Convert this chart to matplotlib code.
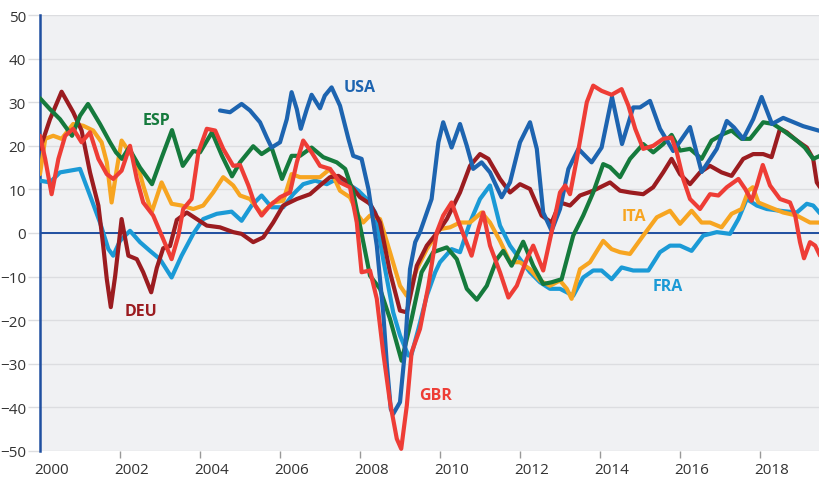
import numpy as np
import matplotlib
matplotlib.use('Agg')
import matplotlib.pyplot as plt
from matplotlib.transforms import ScaledTranslation

# values (year as decimal, value in index points)
usa_t = [2004.5, 2004.75, 2005.04, 2005.25, 2005.5, 2005.67, 2005.79, 2006.0, 2006.17, 2006.29,
         2006.42, 2006.52, 2006.67, 2006.79, 2007.0, 2007.12, 2007.29, 2007.5, 2007.71, 2007.83,
         2008.04, 2008.21, 2008.42, 2008.58, 2008.67, 2008.77, 2008.83, 2009.0, 2009.12, 2009.25,
         2009.38, 2009.5, 2009.79, 2009.96, 2010.08, 2010.29, 2010.5, 2010.67, 2010.83, 2011.04,
         2011.25, 2011.54, 2011.75, 2012.0, 2012.25, 2012.42, 2012.58, 2012.79, 2013.0, 2013.21,
         2013.46, 2013.79, 2014.04, 2014.3, 2014.55, 2014.83, 2015.0, 2015.25, 2015.5, 2015.83,
         2016.0, 2016.25, 2016.54, 2016.92, 2017.17, 2017.35, 2017.58, 2017.83, 2018.04, 2018.3,
         2018.58, 2019.08, 2019.5]
usa_v = [28.1, 27.7, 29.6, 28.1, 25.4, 21.9, 19.6, 20.8, 26.1, 32.3,
         28.4, 23.9, 28.4, 31.7, 28.6, 31.5, 33.4, 29.2, 21.6, 17.7,
         17.0, 10.1, -2.9, -18.2, -30.0, -40.4, -41.5, -38.8, -27.4, -8.3,
         -2.1, 0.2, 7.8, 20.8, 25.4, 19.6, 25.0, 20.0, 14.7, 16.2,
         13.9, 8.2, 11.6, 20.8, 25.4, 19.3, 4.7, 0.5, 5.5, 14.7,
         19.3, 16.2, 19.6, 31.2, 20.4, 28.8, 28.8, 30.3, 23.9, 18.8,
         21.0, 24.3, 14.0, 19.3, 25.7, 24.2, 21.6, 26.1, 31.2, 25.0,
         26.4, 24.5, 23.4]

esp_t = [2000.0, 2000.25, 2000.5, 2000.8, 2001.0, 2001.2, 2001.5, 2001.75, 2001.9, 2002.05,
         2002.22, 2002.5, 2002.8, 2003.05, 2003.3, 2003.57, 2003.83, 2004.0, 2004.3, 2004.55,
         2004.8, 2005.0, 2005.33, 2005.54, 2005.79, 2006.05, 2006.29, 2006.5, 2006.79, 2007.08,
         2007.42, 2007.63, 2007.83, 2008.0, 2008.25, 2008.5, 2008.75, 2009.04, 2009.29, 2009.54,
         2009.83, 2010.17, 2010.42, 2010.67, 2010.92, 2011.17, 2011.42, 2011.58, 2011.79, 2012.08,
         2012.33, 2012.58, 2012.79, 2013.04, 2013.33, 2013.58, 2013.83, 2014.08, 2014.25, 2014.5,
         2014.75, 2015.08, 2015.33, 2015.58, 2015.79, 2016.0, 2016.25, 2016.54, 2016.79, 2017.08,
         2017.29, 2017.54, 2017.75, 2018.08, 2018.33, 2018.58, 2018.92, 2019.12, 2019.33, 2019.5]
esp_v = [30.9, 28.4, 26.1, 22.3, 26.9, 29.6, 25.0, 20.8, 18.5, 17.0,
         19.5, 15.0, 11.2, 17.5, 23.6, 15.4, 18.8, 18.5, 23.1, 17.7,
         13.0, 16.2, 19.9, 18.1, 19.6, 12.4, 17.7, 17.7, 19.6, 17.4,
         16.2, 14.7, 9.3, 1.7, -9.8, -12.8, -19.7, -29.3, -19.7, -9.0,
         -4.4, -3.3, -6.0, -12.8, -15.3, -12.1, -6.0, -4.1, -7.5, -2.0,
         -7.5, -11.7, -11.3, -10.6, -0.6, 4.0, 9.3, 15.8, 15.1, 12.8,
         17.0, 20.4, 18.5, 20.4, 22.5, 18.9, 19.3, 17.0, 21.2, 22.7,
         23.5, 21.6, 21.6, 25.4, 25.0, 23.5, 21.2, 19.6, 17.0, 17.7]

deu_t = [2000.0, 2000.25, 2000.54, 2000.83, 2001.04, 2001.25, 2001.46, 2001.58, 2001.67, 2001.77,
         2001.88, 2002.04, 2002.21, 2002.42, 2002.58, 2002.78, 2002.92, 2003.08, 2003.25, 2003.42,
         2003.67, 2003.92, 2004.17, 2004.5, 2004.83, 2005.04, 2005.33, 2005.58, 2005.83, 2006.08,
         2006.42, 2006.75, 2007.0, 2007.25, 2007.46, 2007.71, 2008.0, 2008.25, 2008.5, 2008.75,
         2009.0, 2009.17, 2009.42, 2009.67, 2010.0, 2010.17, 2010.5, 2010.75, 2011.0, 2011.21,
         2011.5, 2011.75, 2012.0, 2012.25, 2012.54, 2012.79, 2013.0, 2013.25, 2013.5, 2013.83,
         2014.25, 2014.5, 2014.75, 2015.08, 2015.33, 2015.58, 2015.79, 2016.0, 2016.25, 2016.5,
         2016.75, 2017.04, 2017.29, 2017.58, 2017.83, 2018.08, 2018.29, 2018.5, 2018.67, 2018.92,
         2019.17, 2019.33, 2019.42, 2019.5]
deu_v = [19.3, 26.1, 32.4, 27.7, 23.5, 13.9, 6.3, -2.9, -10.6, -17.0,
         -9.8, 3.2, -5.2, -6.0, -9.0, -13.6, -8.0, -3.5, -3.0, 3.0,
         4.7, 3.2, 1.7, 1.3, 0.2, -0.2, -2.1, -1.0, 2.4, 6.3,
         7.8, 8.9, 10.9, 12.8, 13.1, 11.6, 8.2, 6.7, 2.4, -9.0,
         -17.8, -18.2, -7.5, -2.9, 0.9, 3.2, 9.3, 15.4, 18.1, 17.0,
         12.4, 9.3, 11.2, 10.1, 4.0, 2.4, 7.0, 6.3, 8.6, 9.7,
         11.6, 9.7, 9.3, 8.9, 10.5, 13.9, 17.0, 13.5, 11.2, 13.9,
         15.4, 13.9, 13.1, 17.0, 18.1, 18.1, 17.4, 23.9, 23.1, 21.2,
         19.6, 17.0, 11.6, 10.5]

ita_t = [2000.0, 2000.13, 2000.33, 2000.54, 2000.83, 2001.08, 2001.33, 2001.54, 2001.67, 2001.79,
         2001.92, 2002.04, 2002.21, 2002.42, 2002.58, 2002.79, 2003.04, 2003.29, 2003.54, 2003.83,
         2004.08, 2004.33, 2004.58, 2004.83, 2005.0, 2005.25, 2005.54, 2005.83, 2006.08, 2006.29,
         2006.5, 2006.75, 2007.0, 2007.25, 2007.5, 2007.75, 2007.96, 2008.08, 2008.25, 2008.5,
         2008.75, 2009.0, 2009.17, 2009.42, 2009.67, 2010.0, 2010.25, 2010.5, 2010.75, 2011.04,
         2011.25, 2011.5, 2011.75, 2012.0, 2012.25, 2012.5, 2012.75, 2013.0, 2013.17, 2013.29,
         2013.5, 2013.75, 2014.08, 2014.29, 2014.5, 2014.75, 2015.08, 2015.42, 2015.75, 2016.0,
         2016.29, 2016.54, 2016.75, 2017.04, 2017.29, 2017.54, 2017.71, 2017.82, 2017.96, 2018.25,
         2018.58, 2018.92, 2019.25, 2019.5]
ita_v = [13.5, 21.6, 22.3, 21.6, 25.0, 24.6, 23.5, 20.8, 16.2, 7.0,
         14.7, 21.2, 18.9, 16.2, 10.9, 4.7, 11.6, 6.7, 6.3, 5.5,
         6.3, 9.3, 12.8, 10.9, 8.6, 7.8, 4.4, 7.0, 7.4, 13.5,
         12.8, 12.8, 12.8, 14.7, 9.7, 8.2, 4.0, 2.4, 4.0, 3.2,
         -4.4, -12.1, -14.4, -8.3, -3.7, 0.9, 1.3, 2.4, 2.4, 4.7,
         2.4, -1.8, -6.7, -6.7, -8.3, -10.9, -12.1, -10.9, -12.8, -15.1,
         -8.3, -6.7, -1.8, -3.7, -4.4, -4.8, -0.6, 3.6, 5.1, 2.1,
         5.1, 2.4, 2.4, 1.3, 4.4, 5.5, 9.7, 10.5, 7.0, 5.9,
         4.7, 4.0, 2.4, 2.4]

fra_t = [2000.0, 2000.25, 2000.5, 2000.75, 2001.0, 2001.25, 2001.5, 2001.71, 2001.83, 2002.0,
         2002.25, 2002.5, 2002.75, 2003.0, 2003.29, 2003.54, 2003.83, 2004.08, 2004.42, 2004.79,
         2005.04, 2005.29, 2005.54, 2005.79, 2006.08, 2006.33, 2006.58, 2006.88, 2007.17, 2007.42,
         2007.71, 2007.96, 2008.17, 2008.38, 2008.58, 2008.83, 2009.0, 2009.21, 2009.29, 2009.46,
         2009.67, 2009.88, 2010.0, 2010.29, 2010.5, 2010.75, 2011.0, 2011.25, 2011.5, 2011.75,
         2012.0, 2012.25, 2012.5, 2012.75, 2013.0, 2013.17, 2013.33, 2013.58, 2013.83, 2014.04,
         2014.29, 2014.54, 2014.83, 2015.21, 2015.5, 2015.75, 2016.0, 2016.29, 2016.58, 2016.92,
         2017.25, 2017.46, 2017.67, 2017.92, 2018.17, 2018.5, 2018.92, 2019.17, 2019.33, 2019.5]
fra_v = [12.0, 11.6, 13.9, 14.3, 14.7, 8.6, 2.4, -3.7, -5.2, -1.8,
         0.5, -2.1, -4.1, -6.0, -10.2, -5.2, -0.2, 3.2, 4.4, 4.9,
         2.8, 6.3, 8.6, 5.9, 5.9, 8.9, 11.2, 12.0, 11.2, 12.4,
         11.2, 9.7, 7.8, 4.7, -6.0, -18.2, -23.5, -28.1, -27.8, -22.0,
         -14.4, -9.0, -6.7, -3.7, -4.4, 2.4, 7.8, 10.9, 1.7, -2.9,
         -6.0, -9.0, -11.3, -12.8, -12.8, -13.6, -14.4, -10.2, -8.6, -8.6,
         -10.6, -7.9, -8.6, -8.6, -4.4, -2.9, -2.9, -4.1, -0.6, 0.2,
         -0.2, 3.2, 7.8, 6.3, 5.5, 5.1, 4.7, 6.7, 6.3, 4.5]

gbr_t = [2000.0, 2000.13, 2000.29, 2000.46, 2000.63, 2000.83, 2001.04, 2001.25, 2001.46, 2001.67,
         2001.83, 2002.04, 2002.25, 2002.42, 2002.58, 2002.83, 2003.08, 2003.29, 2003.46, 2003.58,
         2003.79, 2003.96, 2004.17, 2004.38, 2004.58, 2004.83, 2005.0, 2005.21, 2005.38, 2005.54,
         2005.75, 2006.0, 2006.25, 2006.42, 2006.58, 2006.79, 2007.0, 2007.25, 2007.5, 2007.75,
         2007.92, 2008.04, 2008.25, 2008.42, 2008.58, 2008.75, 2008.92, 2009.03, 2009.17, 2009.29,
         2009.5, 2009.71, 2009.92, 2010.08, 2010.29, 2010.5, 2010.79, 2010.96, 2011.08, 2011.25,
         2011.5, 2011.71, 2011.92, 2012.17, 2012.33, 2012.58, 2012.79, 2013.0, 2013.13, 2013.25,
         2013.42, 2013.67, 2013.83, 2014.04, 2014.29, 2014.54, 2014.71, 2014.88, 2015.08, 2015.33,
         2015.58, 2015.79, 2015.92, 2016.08, 2016.25, 2016.5, 2016.75, 2016.96, 2017.17, 2017.46,
         2017.63, 2017.79, 2017.92, 2018.07, 2018.25, 2018.5, 2018.75, 2018.88, 2019.0, 2019.1,
         2019.25, 2019.38, 2019.5]
gbr_v = [22.3, 17.0, 8.9, 17.0, 22.3, 23.9, 20.8, 23.1, 17.0, 13.5,
         12.4, 14.3, 20.0, 12.4, 7.0, 4.0, -1.4, -6.0, -0.6, 5.5,
         7.8, 18.5, 23.9, 23.5, 19.3, 15.4, 15.6, 10.9, 6.3, 4.0,
         6.3, 8.2, 9.3, 16.2, 21.2, 18.5, 15.4, 14.7, 11.6, 10.5,
         2.4, -9.0, -8.6, -15.1, -27.4, -38.8, -47.2, -49.5, -39.6, -27.4,
         -22.0, -12.1, 0.2, 4.0, 7.0, 1.7, -5.2, 0.9, 4.7, -2.9,
         -9.0, -14.8, -12.1, -6.0, -2.9, -8.6, 0.2, 9.3, 10.9, 8.9,
         17.0, 30.0, 33.8, 32.6, 31.7, 33.0, 29.2, 23.9, 19.3, 20.0,
         21.6, 21.9, 18.5, 12.4, 7.8, 5.5, 8.9, 8.6, 10.5, 12.4,
         10.1, 7.4, 10.9, 15.6, 10.9, 7.8, 7.0, 4.0, -2.1, -5.8,
         -2.1, -2.9, -5.2]

# label name, colour and where the label sits
names = ['FRA', 'ITA', 'DEU', 'ESP', 'USA', 'GBR']
colors = ['#1b9ad6', '#f7a521', '#9b1c20', '#157a3c', '#1d64b0', '#ee3d36']
label_x = [2015.7, 2014.85, 2002.52, 2002.9, 2007.98, 2009.9]
label_y = [-12.2, 3.9, -17.8, 25.9, 33.6, -37.2]

series = [(fra_t, fra_v), (ita_t, ita_v), (deu_t, deu_v),
          (esp_t, esp_v), (usa_t, usa_v), (gbr_t, gbr_v)]

axis_blue = '#1f4fa0'
grid_grey = '#dcdde0'

fig = plt.figure(figsize=(8.2, 4.81), dpi=100)
ax = fig.add_axes([40 / 820, 29 / 481, 780 / 820, 436 / 481])
ax.set_facecolor('#f0f1f3')

for k, (t, v) in enumerate(series):
    ax.plot(t, v, color=colors[k], lw=3.0, solid_joinstyle='round',
            solid_capstyle='round', zorder=3 + k)
    ax.text(label_x[k], label_y[k], names[k], color=colors[k], fontsize=11.5,
            fontweight='bold', family='Open Sans', ha='center', va='center',
            zorder=10)

ax.axhline(0, color=axis_blue, lw=1.4, zorder=2)

ax.set_xlim(2000, 2019.5)
ax.set_ylim(-50, 50)
ax.set_yticks(np.arange(-50, 51, 10))
ax.set_xticks(np.arange(2000, 2019, 2))
ax.set_xticklabels([str(y) for y in range(2000, 2019, 2)])
ax.grid(axis='y', color=grid_grey, lw=1.0, zorder=1)

for s in ['top', 'right', 'bottom']:
    ax.spines[s].set_visible(False)
ax.spines['left'].set_color(axis_blue)
ax.spines['left'].set_linewidth(1.8)

ax.tick_params(axis='y', length=9, width=1.0, color=grid_grey, pad=1,
               labelsize=11, labelcolor='#333333')
ax.tick_params(axis='x', length=5, width=1.0, color='#999999', pad=3,
               labelsize=11, labelcolor='#333333')
for lab in ax.get_yticklabels() + ax.get_xticklabels():
    lab.set_family('Open Sans')
# no tick mark under the left axis
ax.xaxis.get_major_ticks()[0].tick1line.set_visible(False)

# year labels sit a little right of their tick marks
shift = ScaledTranslation(12 / 100, 0, fig.dpi_scale_trans)
for lab in ax.get_xticklabels():
    lab.set_transform(lab.get_transform() + shift)

fig.savefig('out.png', dpi=100)
